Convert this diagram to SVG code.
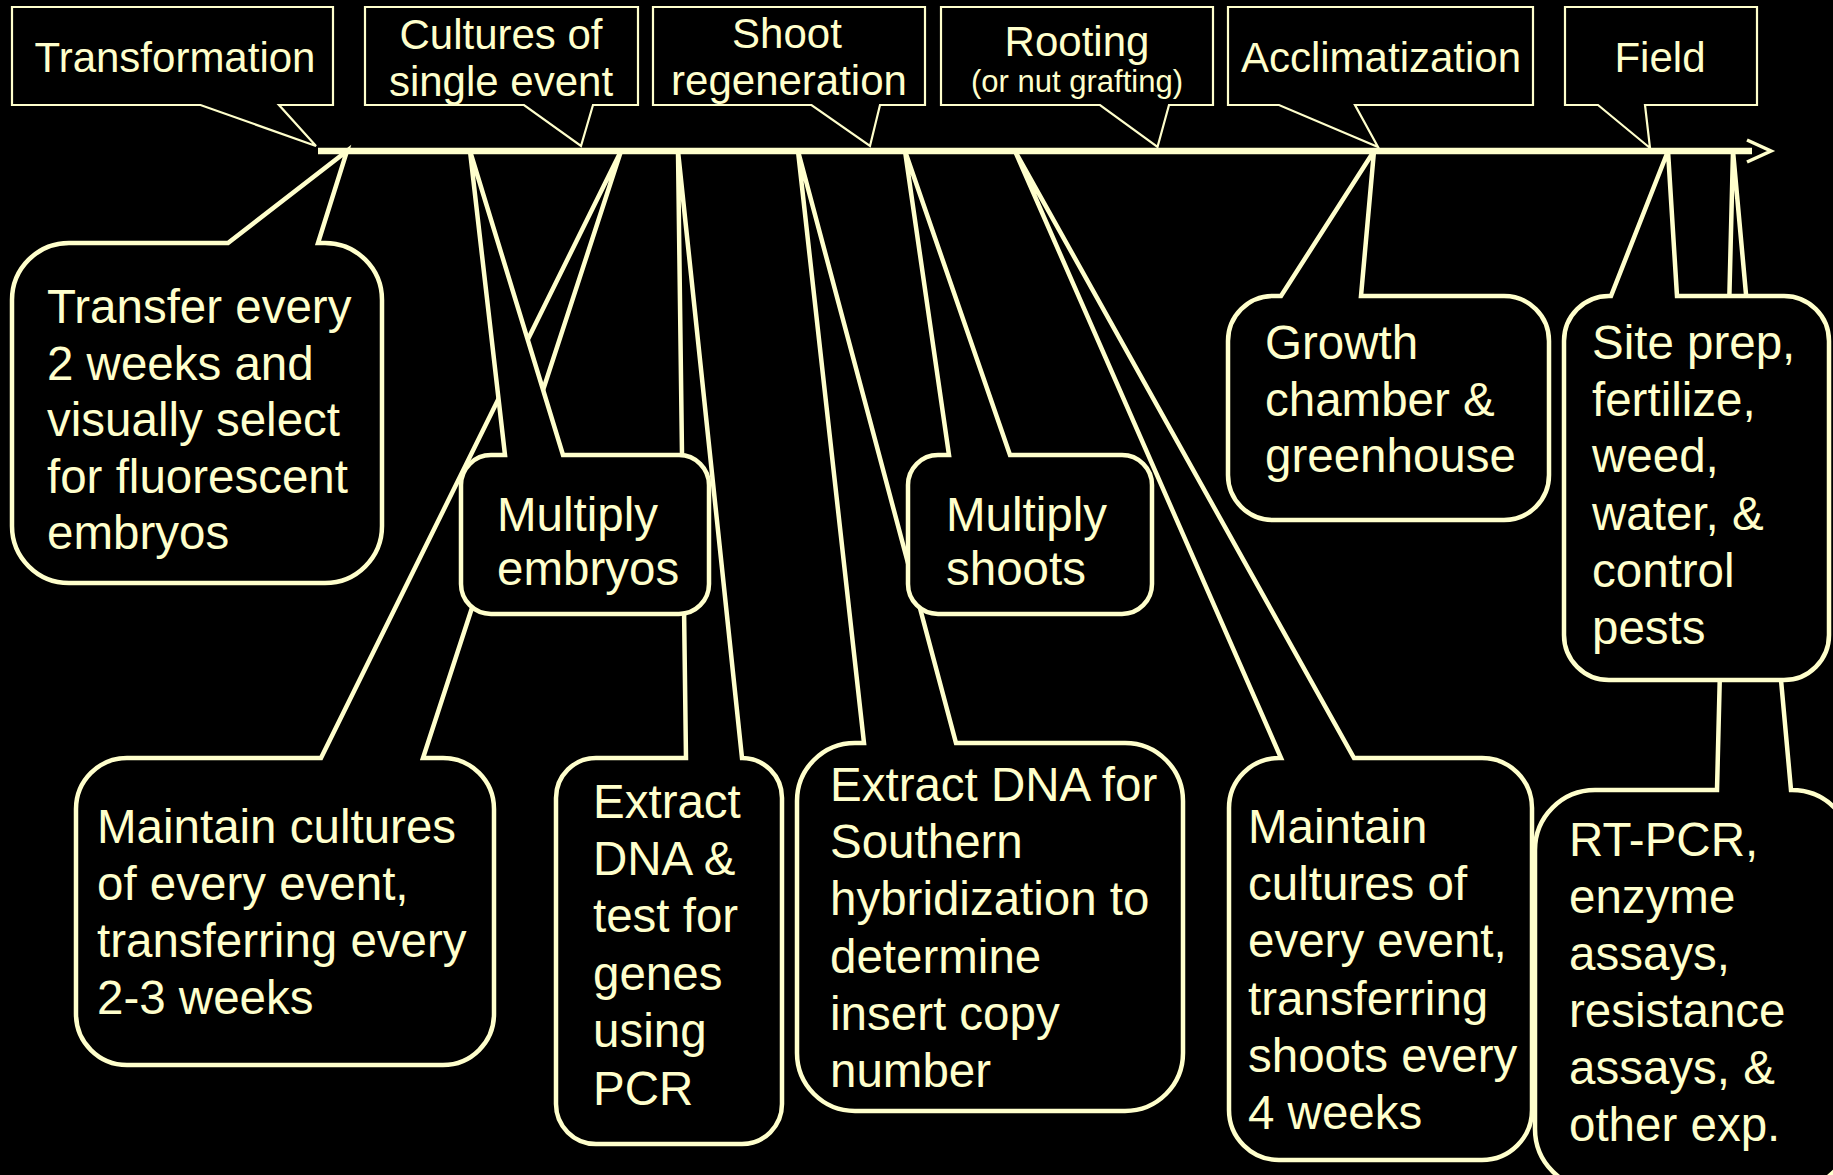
<svg xmlns="http://www.w3.org/2000/svg" width="1833" height="1175" viewBox="0 0 1833 1175">
<style>
  .bg { fill: #000; }
  .box { fill: #000; stroke: #FFFFCC; stroke-width: 2.2; stroke-linejoin: miter; }
  .call { fill: #000; stroke: #FFFFCC; stroke-width: 4.5; stroke-linejoin: miter; }
  .t { fill: #FFFFCC; font-family: "Liberation Sans", Arial, sans-serif; font-size: 42px; }
  .ts { fill: #FFFFCC; font-family: "Liberation Sans", Arial, sans-serif; font-size: 31px; }
  .b { fill: #FFFFCC; font-family: "Liberation Sans", Arial, sans-serif; font-size: 47.5px; }
  .line { stroke: #FFFFCC; fill: none; }
</style>
<rect class="bg" x="0" y="0" width="1833" height="1175"/>

<!-- Top stage callouts -->
<g id="stage-transformation">
  <path class="box" d="M12,7 H333 V105 H279 L316,146 L200.5,105 H12 Z"/>
  <text class="t" x="175" y="72" text-anchor="middle">Transformation</text>
</g>
<g id="stage-cultures">
  <path class="box" d="M365,7 H638 V105 H593 L581,146 L524,105 H365 Z"/>
  <text class="t" text-anchor="middle"><tspan x="501" y="49">Cultures of</tspan><tspan x="501" y="96">single event</tspan></text>
</g>
<g id="stage-shoot">
  <path class="box" d="M653,7 H925 V105 H880 L870,146 L811.5,105 H653 Z"/>
  <text class="t" text-anchor="middle"><tspan x="787" y="48">Shoot</tspan><tspan x="789" y="95">regeneration</tspan></text>
</g>
<g id="stage-rooting">
  <path class="box" d="M941,7 H1213 V105 H1169 L1157.5,147 L1100,105 H941 Z"/>
  <text class="t" x="1077" y="56" text-anchor="middle">Rooting</text>
  <text class="ts" x="1077" y="92" text-anchor="middle">(or nut grafting)</text>
</g>
<g id="stage-acclimatization">
  <path class="box" d="M1228,7 H1533 V105 H1355 L1378,147 L1279,105 H1228 Z"/>
  <text class="t" x="1381" y="72" text-anchor="middle">Acclimatization</text>
</g>
<g id="stage-field">
  <path class="box" d="M1565,7 H1757 V105 H1645 L1650,148 L1598,105 H1565 Z"/>
  <text class="t" x="1660" y="72" text-anchor="middle">Field</text>
</g>

<!-- Activity callouts (order matters for overlap) -->
<g id="act-rtpcr">
  <path class="call" d="M1595,790 H1717 L1733,151 L1791,790 H1792 A60,60 0 0 1 1852,850 V1129 A60,60 0 0 1 1792,1189 H1595 A60,60 0 0 1 1535,1129 V850 A60,60 0 0 1 1595,790 Z"/>
  <text class="b"><tspan x="1569" y="856">RT-PCR,</tspan><tspan x="1569" y="913">enzyme</tspan><tspan x="1569" y="970">assays,</tspan><tspan x="1569" y="1027">resistance</tspan><tspan x="1569" y="1084">assays, &amp;</tspan><tspan x="1569" y="1141">other exp.</tspan></text>
</g>
<g id="act-site">
  <path class="call" d="M1609,296 H1611 L1668,151 L1677,296 H1784 A45,45 0 0 1 1829,341 V635 A45,45 0 0 1 1784,680 H1609 A45,45 0 0 1 1564,635 V341 A45,45 0 0 1 1609,296 Z"/>
  <text class="b"><tspan x="1592" y="359">Site prep,</tspan><tspan x="1592" y="416">fertilize,</tspan><tspan x="1592" y="472">weed,</tspan><tspan x="1592" y="530">water, &amp;</tspan><tspan x="1592" y="587">control</tspan><tspan x="1592" y="644">pests</tspan></text>
</g>
<g id="act-maintain-embryos">
  <path class="call" d="M127,758 H321 L621,151 L423,758 H443 A51,51 0 0 1 494,809 V1014 A51,51 0 0 1 443,1065 H127 A51,51 0 0 1 76,1014 V809 A51,51 0 0 1 127,758 Z"/>
  <text class="b"><tspan x="97" y="843">Maintain cultures</tspan><tspan x="97" y="900">of every event,</tspan><tspan x="97" y="957">transferring every</tspan><tspan x="97" y="1014">2-3 weeks</tspan></text>
</g>
<g id="act-pcr">
  <path class="call" d="M596,758 H686 L678,151 L742,758 A40,40 0 0 1 782,798 V1104 A40,40 0 0 1 742,1144 H596 A40,40 0 0 1 556,1104 V798 A40,40 0 0 1 596,758 Z"/>
  <text class="b"><tspan x="593" y="818">Extract</tspan><tspan x="593" y="875">DNA &amp;</tspan><tspan x="593" y="932">test for</tspan><tspan x="593" y="990">genes</tspan><tspan x="593" y="1047">using</tspan><tspan x="593" y="1105">PCR</tspan></text>
</g>
<g id="act-southern">
  <path class="call" d="M855,743 H864 L798,151 L956,743 H1125 A58,58 0 0 1 1183,801 V1053 A58,58 0 0 1 1125,1111 H855 A58,58 0 0 1 797,1053 V801 A58,58 0 0 1 855,743 Z"/>
  <text class="b"><tspan x="830" y="801">Extract DNA for</tspan><tspan x="830" y="858">Southern</tspan><tspan x="830" y="915">hybridization to</tspan><tspan x="830" y="973">determine</tspan><tspan x="830" y="1030">insert copy</tspan><tspan x="830" y="1087">number</tspan></text>
</g>
<g id="act-maintain-shoots">
  <path class="call" d="M1279,758 H1281 L1015,151 L1354,758 H1482 A50,50 0 0 1 1532,808 V1110 A50,50 0 0 1 1482,1160 H1279 A50,50 0 0 1 1229,1110 V808 A50,50 0 0 1 1279,758 Z"/>
  <text class="b"><tspan x="1248" y="843">Maintain</tspan><tspan x="1248" y="900">cultures of</tspan><tspan x="1248" y="957">every event,</tspan><tspan x="1248" y="1015">transferring</tspan><tspan x="1248" y="1072">shoots every</tspan><tspan x="1248" y="1129">4 weeks</tspan></text>
</g>
<g id="act-transfer">
  <path class="call" d="M69,243 H228 L347,151 L318,243 H325 A57,57 0 0 1 382,300 V526 A57,57 0 0 1 325,583 H69 A57,57 0 0 1 12,526 V300 A57,57 0 0 1 69,243 Z"/>
  <text class="b"><tspan x="47" y="323">Transfer every</tspan><tspan x="47" y="379.5">2 weeks and</tspan><tspan x="47" y="436">visually select</tspan><tspan x="47" y="492.5">for fluorescent</tspan><tspan x="47" y="549">embryos</tspan></text>
</g>
<g id="act-growth">
  <path class="call" d="M1273,296 H1281 L1374,151 L1361,296 H1504 A45,45 0 0 1 1549,341 V475 A45,45 0 0 1 1504,520 H1273 A45,45 0 0 1 1228,475 V341 A45,45 0 0 1 1273,296 Z"/>
  <text class="b"><tspan x="1265" y="359">Growth</tspan><tspan x="1265" y="416">chamber &amp;</tspan><tspan x="1265" y="472">greenhouse</tspan></text>
</g>
<g id="act-multiply-embryos">
  <path class="call" d="M491,455 H505 L470,151 L563,455 H679 A30,30 0 0 1 709,485 V584 A30,30 0 0 1 679,614 H491 A30,30 0 0 1 461,584 V485 A30,30 0 0 1 491,455 Z"/>
  <text class="b"><tspan x="497" y="531">Multiply</tspan><tspan x="497" y="585">embryos</tspan></text>
</g>
<g id="act-multiply-shoots">
  <path class="call" d="M938,455 H949 L905,151 L1010,455 H1122 A30,30 0 0 1 1152,485 V584 A30,30 0 0 1 1122,614 H938 A30,30 0 0 1 908,584 V485 A30,30 0 0 1 938,455 Z"/>
  <text class="b"><tspan x="946" y="531">Multiply</tspan><tspan x="946" y="585">shoots</tspan></text>
</g>

<!-- Connectors: timeline arrow -->
<g id="connectors">
  <line class="line" x1="318" y1="151" x2="1752" y2="151" stroke-width="6.5"/>
  <polyline class="line" points="1747,140 1771,151 1747,162" stroke-width="3.5"/>
</g>
</svg>
